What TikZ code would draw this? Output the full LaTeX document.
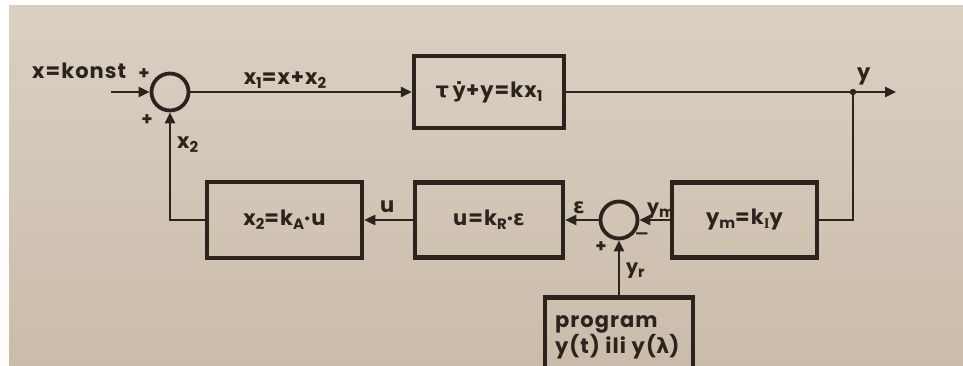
\documentclass[tikz,border=0pt]{standalone}
\usepackage{fontspec}
\setmainfont{Poppins}[LetterSpace=5]
\newfontfamily\grk{DejaVu Sans}
\newfontfamily\serifI{Liberation Serif}
\usetikzlibrary{arrows.meta}
\definecolor{papertop}{HTML}{DAD0C2}
\definecolor{paperbot}{HTML}{CABCAA}
\definecolor{ink}{HTML}{2B241E}
\newcommand\lsub[1]{\raisebox{-4pt}{\fontsize{15}{15}\selectfont #1}}
\begin{document}
\begin{tikzpicture}[x=1pt,y=-1pt,
  font=\fontsize{21}{26}\selectfont\bfseries,
  every node/.style={text=ink},
  blk/.style={draw=ink, line width=4.5pt, rectangle, inner sep=0pt},
  sumj/.style={draw=ink, line width=3.8pt, circle, minimum size=37pt, inner sep=0pt},
  conn/.style={draw=ink, line width=2.4pt},
  arr/.style={conn, -{Triangle[length=11pt,width=10pt]}},
  lbl/.style={inner sep=0pt},
  sgn/.style={inner sep=0pt, font=\fontsize{18}{18}\selectfont\bfseries}]
\fill[white] (0,0) rectangle (963,366);
\shade[top color=papertop, bottom color=paperbot] (9,6) rectangle (963,366);
\useasboundingbox (0,0) rectangle (963,366);
\clip (0,0) rectangle (963,366);

% blocks
\node[sumj] (s1) at (170,92) {};
\node[blk, minimum width=150pt, minimum height=72pt] (b1) at (489,92)
  {{\grk τ}\,{\grk\bfseries ẏ}+y=kx\lsub{1}};
\node[blk, minimum width=155pt, minimum height=76pt] (b2) at (284.5,220)
  {x\lsub{2}=k\lsub{A}·u};
\node[blk, minimum width=148pt, minimum height=75pt] (b3) at (489,220)
  {u=k\lsub{R}·{\grk ε}};
\node[sumj] (s2) at (619,220) {};
\node[blk, minimum width=145pt, minimum height=75pt] (b4) at (744.5,220)
  {y\lsub{m}=k\lsub{\serifI I}y};
\node[blk, anchor=north, inner xsep=10pt, inner ysep=18pt] (prog) at (619,295)
  {\parbox[t][90pt][t]{128pt}{program\\y(t) ili y({\grk λ})}};

% connectors
\coordinate (in) at (111,92);
\coordinate (br) at (853,92);
\coordinate (out) at (896,92);
\draw[arr] (in) -- (s1.west);
\draw[arr] (s1.east) -- (b1.west);
\draw[conn] (b1.east) -- (br);
\draw[arr] (br) -- (out);
\fill[ink] (br) circle (3.2pt);
\draw[conn] (b4.east) -| (br);
\draw[arr] (b4.west) -- (s2.east);
\draw[arr] (s2.west) -- (b3.east);
\draw[arr] (b3.west) -- (b2.east);
\draw[arr] (b2.west) -| (s1.south);
\draw[arr] (prog.north) -- (s2.south);

% labels
\node[lbl, anchor=base west] (lx) at (32,79) {x=konst};
\node[sgn] (p1) at (144,74) {+};
\node[sgn] (p2) at (147,120) {+};
\node[lbl, anchor=base west] (lx2) at (177,149) {x\lsub{2}};
\node[lbl, anchor=base] (lx1) at (285,85) {x\lsub{1}=x+x\lsub{2}};
\node[lbl, anchor=base west] (ly) at (857,80) {y};
\node[lbl, anchor=base west] (lu) at (380,212) {u};
\node[lbl, anchor=base west] (le) at (573,214) {{\grk ε}};
\node[lbl, anchor=base west, font=\fontsize{19}{19}\selectfont\bfseries] (lym) at (647,213) {y\lsub{m}};
\node[sgn] (m2) at (642,236) {{\grk −}};
\node[sgn] (p3) at (601,247) {+};
\node[lbl, anchor=base west, font=\fontsize{19}{19}\selectfont\bfseries] (lyr) at (626,273) {y\lsub{r}};
\end{tikzpicture}
\end{document}
